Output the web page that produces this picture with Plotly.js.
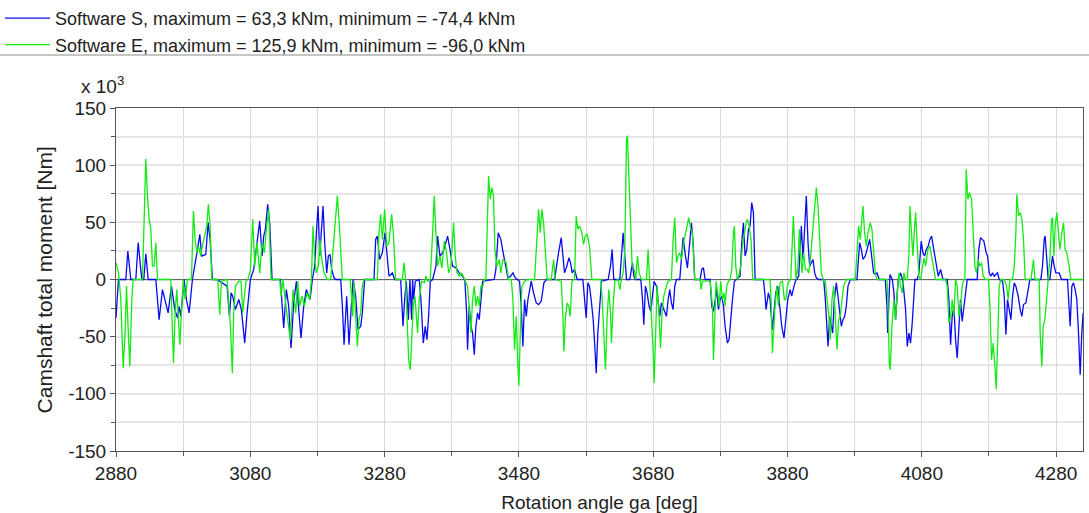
<!DOCTYPE html>
<html>
<head>
<meta charset="utf-8">
<script src="https://cdn.plot.ly/plotly-3.0.1.min.js"></script>
<style>html,body{margin:0;padding:0;background:#fff;}#chart{width:1089px;height:513px;}</style>
</head>
<body>
<div id="chart"></div>
<script>
// [rotation angle in deg, camshaft total moment in 10^3 Nm]
const softwareS = [
[2880,-33.6],[2883.7,0],[2894.6,0],[2897.6,24.9],[2902.1,0],[2909.5,0],[2913,32.2],[2918.4,0],[2921.4,0],[2924.4,22.5],[2927.9,0],[2939.3,0],[2944.2,-35.1],[2949.2,-8.8],[2957.6,-29.2],[2962.6,-5.8],[2967.6,-26.3],[2971.5,-33.6],[2974,-23.4],[2976.5,-32.2],[2981.4,0],[2984.9,-17.5],[2988.9,-29.2],[2993.8,0],[3001.3,26.3],[3004.8,39.5],[3007.7,20.5],[3013.7,21.9],[3017.2,49.7],[3020.1,35.1],[3023.6,0],
[3030.5,0],[3045.4,-5.8],[3048.9,-32.2],[3051.4,-11.7],[3053.8,-14.6],[3057.8,-26.3],[3062.8,-17.5],[3066.7,-26.3],[3071.7,-55.6],[3075.2,-29.2],[3080.1,0],[3085.1,8.8],[3090,32.2],[3094,51.2],[3097.5,20.5],[3100,38],[3102.4,43.9],[3105.9,65.8],[3108.9,49.7],[3112.4,0],[3124.8,0],[3129.7,-42.4],[3133.7,-8.8],[3137.2,-23.4],[3140.6,-59.9],[3144.6,-20.5],[3148.6,-1.5],[3152,-23.4],[3155.5,-51.2],[3159.5,-23.4],[3163.4,-8.8],[3166.9,-14.6],
[3169,-17.5],[3172.4,0],[3175.9,11.7],[3178.4,40.9],[3180.9,64.3],[3183.4,20.5],[3185.8,40.9],[3188.3,64.3],[3190.8,32.2],[3193.8,5.8],[3196.2,20.5],[3198.7,21.9],[3201.2,8.8],[3204.7,1.5],[3207.2,0],[3214.6,0],[3217.1,-23.4],[3219.6,-57],[3223.5,-14.6],[3227,-57],[3229.5,-32.2],[3233,0],[3236.9,-14.6],[3240.4,-43.9],[3244.4,-40.9],[3246.8,-29.2],[3250.3,0],[3264.2,0],[3266.7,35.1],[3269.2,38],[3272.6,17.5],[3276.6,23.4],[3280.6,40.9],[3284,17.5],[3286.5,2.9],[3291.5,5.8],[3295,0],[3303.9,0],[3307.4,-40.9],[3309.8,-17.5],[3312.3,-1.5],
[3315.3,-35.1],[3317.7,0],[3320.2,-35.1],[3321.7,0],[3323.2,-17.5],[3325.7,-1.5],[3331.6,0],[3334.1,-17.5],[3337.6,-55.6],[3340.5,-40.9],[3343,-52.6],[3345.5,-32.2],[3348,-1.5],[3351.5,0],[3356.4,11.7],[3358.9,38],[3362.4,20.5],[3366.3,23.4],[3369.8,29.2],[3373.8,38],[3377.3,26.3],[3381.2,11.7],[3386.2,10.2],[3391.1,5.8],[3396.1,2.9],[3399.6,-1.5],[3402.1,-29.2],[3403.5,-61.4],[3406,-23.4],[3408.5,-40.9],[3411,-46.8],[3413.5,-65.8],[3415.9,-40.9],[3418.4,-29.2],[3420.9,-35.1],[3423.4,-17.5],[3425.9,-1.5],[3443.2,0],[3445.7,8.8],[3449.2,40.9],[3453.1,35.1],[3455.6,26.3],[3459.6,14.6],
[3463.6,1.5],[3467.6,2.9],[3471.1,5.8],[3474.5,1.5],[3478.5,0],[3481,-1.5],[3483.5,-23.4],[3485.9,-58.5],[3488.4,-17.5],[3490.9,-32.2],[3493.4,-17.5],[3495.9,-10.2],[3498.3,-1.5],[3501.8,-11.7],[3505.8,-20.5],[3509.3,-21.9],[3513.2,-19],[3517.2,-2.9],[3520.7,0],[3533.1,0],[3535.5,11.7],[3539,23.4],[3543,36.6],[3545.5,17.5],[3547.9,5.8],[3551.4,11.7],[3554.4,19],[3556.9,14.6],[3559.3,5.8],[3562.8,8.8],[3566.8,0],[3575.2,0],[3577.7,-14.6],[3580.2,-33.6],[3582.7,-2.9],[3585.1,-5.8],[3587.6,-17.5],[3590.6,-35.1],[3593.6,-64.3],[3595.1,-81.9],[3597.5,-46.8],[3600,-26.3],
[3603,-1.5],[3612.9,0],[3616.4,11.7],[3618.8,26.3],[3621.3,0],[3630.2,0],[3632.7,20.5],[3635.2,40.9],[3637.7,20.5],[3640.2,0],[3645.1,0],[3647.6,8.8],[3649.1,14.6],[3651.1,2.9],[3653.6,0],[3661.5,0],[3664,-17.5],[3666,-39.5],[3668.4,-5.8],[3670.9,-11.7],[3673.9,-23.4],[3676.4,-27.8],[3678.8,-11.7],[3681.3,-1.5],[3684.8,-5.8],[3687.3,-17.5],[3689.8,-32.2],[3692.2,-20.5],[3694.7,-24.9],[3697.2,-29.2],[3699.7,-32.2],[3702.2,-17.5],[3704.6,-8.8],[3707.1,-20.5],[3709.6,-26.3],[3712.1,-5.8],[3714.6,0],[3719.5,0],[3722,17.5],[3724.5,36.6],[3728,20.5],[3730.9,10.2],[3734.4,32.2],[3736.9,49.7],[3739.4,32.2],[3741.8,0],
[3749.8,0],[3752.3,8.8],[3754.8,10.2],[3757.3,0],[3764.7,0],[3767.2,-23.4],[3769.7,-27.8],[3772.2,-17.5],[3774.6,-8.8],[3777.1,-26.3],[3779.6,-17.5],[3782.1,-14.6],[3784.6,-23.4],[3787,-40.9],[3790.5,-55.6],[3793,-52.6],[3795.5,-32.2],[3798,-17.5],[3800.9,-1.5],[3804.4,0],[3809.4,2.9],[3811.8,32.2],[3814.3,49.7],[3816.8,20.5],[3819.3,26.3],[3821.8,43.9],[3824.2,46.8],[3826.7,67.3],[3829.2,58.5],[3831.7,0],[3844.1,0],[3846.6,-14.6],[3848,-26.3],[3851.5,-11.7],[3854,-17.5],[3857.5,-43.9],[3860,-23.4],[3862.4,-11.7],[3865.4,-5.8],[3868.9,-26.3],[3871.4,-40.9],[3874.8,-51.2],[3877.3,-32.2],[3880.3,-17.5],[3883.8,-8.8],[3886.2,-14.6],[3889.7,-5.8],
[3891.7,-1.5],[3896.6,2.9],[3899.1,40.9],[3900.6,46.8],[3903.1,17.5],[3905.6,40.9],[3908,73.1],[3910.5,32.2],[3913,11.7],[3915.5,14.6],[3918,17.5],[3920.4,5.8],[3922.9,1.5],[3926.4,0],[3933.8,0],[3936.3,-17.5],[3938.8,-46.8],[3940.3,-58.5],[3942.7,-32.2],[3945.2,-40.9],[3947.2,-46.8],[3949.7,-17.5],[3952.7,-2.9],[3955.1,-14.6],[3957.6,-29.2],[3960.1,-40.9],[3962.6,-35.1],[3965.1,-32.2],[3967.5,-23.4],[3970,-5.8],[3973.5,0],[3983.4,0],[3984.9,11.7],[3987.4,32.2],[3989.9,26.3],[3992.3,17.5],[3995.8,20.5],[3999.8,29.2],[4002.3,35.1],[4004.7,23.4],[4008.2,5.8],[4010.7,4.4],[4013.2,5.8],[4016.7,0],[4025.6,0],[4028.1,-23.4],[4029.1,-46.8],
[4032.5,4.4],[4036,0],[4038.4,-11.7],[4040.9,-35.1],[4043.4,-11.7],[4044.9,0],[4048.4,5.8],[4051.8,-1.5],[4055.8,-26.3],[4058.3,-58.5],[4060.8,-46.8],[4063.2,-55.6],[4065.7,-38],[4068.2,-11.7],[4069.7,0],[4073.2,0],[4075.6,5.8],[4079.1,33.6],[4081.6,23.4],[4084.1,20.5],[4086.6,26.3],[4089.5,29.2],[4092,35.1],[4094.5,38],[4097,29.2],[4099.4,17.5],[4101.9,8.8],[4104.4,2.9],[4107.9,8.8],[4111.4,0],[4117.8,0],[4120.3,-17.5],[4122.8,-57],[4125.2,-32.2],[4127.7,-23.4],[4130.2,-52.6],[4132.7,-68.7],[4135.2,-35.1],[4137.6,-17.5],[4140.1,-36.6],[4142.6,-23.4],[4145.1,-8.8],[4147.6,0],[4162.4,0],[4164.9,26.3],[4167.4,36.6],[4172.4,33.6],[4175.8,23.4],
[4177.9,20.5],[4180.4,5.8],[4182.8,2.9],[4185.3,5.8],[4187.8,2.9],[4190.3,4.4],[4192.8,5.8],[4195.2,0],[4200.2,-1.5],[4202.7,-14.6],[4205.2,-48.2],[4207.6,-17.5],[4210.1,-26.3],[4212.6,-35.1],[4215.1,-14.6],[4217.6,-2.9],[4220,-5.8],[4223.5,-14.6],[4226.5,-26.3],[4229,-32.2],[4231.4,-21.9],[4234.9,-20.5],[4238.4,-8.8],[4240.9,0],[4257.2,0],[4259.7,11.7],[4262.2,35.1],[4263.7,38],[4265.7,20.5],[4268.2,0],[4270.6,0],[4273.1,17.5],[4274.6,20.5],[4277.1,11.7],[4279.6,5.8],[4284.5,5.8],[4288,0],[4296.9,0],[4299.4,-26.3],[4300.9,-40.9],[4303.4,-5.8],[4305.8,-2.9],[4308.3,-8.8],[4310.8,-17.5],[4313.3,-46.8],[4315.8,-83.3],[4318.2,-46.8],[4320.2,-29.2]
];

const softwareE = [
[2880,14.6],[2883.7,5.8],[2887.2,-17.5],[2890.7,-77.5],[2893.6,-46.8],[2895.6,-5.8],[2897.1,-29.2],[2900.6,-76],[2903.6,-17.5],[2905.6,0],[2919.4,0],[2921.9,46.8],[2924.4,105.3],[2926.9,73.1],[2929.4,52.6],[2931.8,43.9],[2934.3,11.7],[2936.8,11.7],[2939.3,32.2],[2941.8,0],[2961.6,0],[2964.1,-46.8],[2965.6,-73.1],[2968,-29.2],[2970.5,-8.8],[2972.5,-29.2],[2975,-57],[2977.5,-29.2],[2980,0],[2982.9,-17.5],[2986.4,0],[2992.4,0],[2995.3,59.9],[2997.8,35.1],[3000.3,23.4],[3002.8,29.2],[3006.2,20.5],[3008.7,29.2],[3012.2,38],[3015.2,46.8],[3017.6,65.8],[3020.1,46.8],[3022.6,0],
[3031.5,0],[3034.5,-30.7],[3037,-1.5],[3045.4,0],[3047.9,-23.4],[3050.4,-40.9],[3053.3,-81.9],[3055.3,-29.2],[3057.8,-5.8],[3062.8,-1.5],[3066.2,-1.5],[3068.7,-29.2],[3071.7,-11.7],[3073.7,-1.5],[3076.2,0],[3080.1,7.3],[3083.6,52.6],[3086.6,11.7],[3090,32.2],[3094,5.8],[3097.5,32.2],[3101,23.4],[3103.9,43.9],[3107.4,61.4],[3110.9,0],[3123.8,0],[3125.8,-14.6],[3128.7,0],[3133.7,-26.3],[3139.6,-52.6],[3143.6,-8.8],[3147.6,-29.2],[3150.6,-1.5],[3153.5,-23.4],[3157,-14.6],[3160.5,-23.4],[3164.4,-11.7],[3168.4,-17.5],[3171,0],
[3173.4,46.8],[3175.9,17.5],[3178.4,5.8],[3181.4,11.7],[3183.8,35.1],[3185.8,20.5],[3189.8,5.8],[3194.8,0],[3199.7,0],[3203.7,29.2],[3207.2,52.6],[3209.6,73.1],[3212.1,52.6],[3214.6,20.5],[3217.1,0],[3228.5,0],[3230.5,-11.7],[3232.5,-32.2],[3234.4,-1.5],[3236.9,-32.2],[3239.4,-58.5],[3241.9,-35.1],[3244.4,-29.2],[3246.8,-5.8],[3249.3,0],[3269.2,0],[3271.6,40.9],[3274.1,57],[3276.6,35.1],[3280.1,61.4],[3283,29.2],[3286.5,32.2],[3290.5,57],[3293,40.9],[3296.4,0],[3306.4,0],[3308.8,14.6],[3311.3,0],[3313.8,-32.2],[3315.8,-70.2],
[3318.2,-78.9],[3320.2,-46.8],[3322.7,-23.4],[3325.2,-14.6],[3327.7,-32.2],[3329.1,-46.8],[3331.6,-17.5],[3335.1,-1.5],[3339.1,-2.9],[3341.5,2.9],[3344,-1.5],[3348,0],[3351.5,40.9],[3353.9,73.1],[3356.4,40.9],[3358.9,11.7],[3362.4,20.5],[3365.3,10.2],[3368.8,33.6],[3372.3,23.4],[3375.3,5.8],[3378.7,11.7],[3382.7,49.7],[3385.2,20.5],[3387.7,5.8],[3391.1,2.9],[3394.6,5.8],[3398.6,0],[3403.5,-5.8],[3406.5,-29.2],[3408.5,-46.8],[3411,-17.5],[3413.5,-5.8],[3415.9,-23.4],[3418.4,-14.6],[3420.9,-23.4],[3423.4,-5.8],[3426.4,-5.8],[3428.3,0],[3430.8,0],[3433.3,70.2],[3434.8,90.6],[3437.3,70.2],[3439.7,80.4],[3442.2,73.1],[3444.2,26.3],[3447.2,11.7],[3450.7,17.5],[3453.1,5.8],[3456.1,17.5],
[3461.1,14.6],[3464.6,0],[3468.6,0],[3471.1,-17.5],[3473.5,-61.4],[3476,-32.2],[3478.5,-76],[3480,-93],[3482,-46.8],[3484.5,-5.8],[3488.4,-1.5],[3493.4,0],[3503.3,0],[3506.8,40.9],[3509.3,61.4],[3511.7,40.9],[3514.2,61.4],[3516.7,49.7],[3519.7,17.5],[3522.1,0],[3528.1,0],[3531.6,17.5],[3534.1,0],[3543,-1.5],[3545.5,-32.2],[3546.9,-62.9],[3549.4,-32.2],[3551.9,-20.5],[3554.4,-23.4],[3556.4,-32.2],[3558.9,-1.5],[3562.8,0],[3565.3,55.6],[3567.8,43.9],[3570.3,46.8],[3573.7,40.9],[3576.2,30.7],[3578.7,38],[3581.7,39.5],[3585.1,29.2],[3588.6,0],[3602,0],
[3604,-17.5],[3606.4,-52.6],[3608.9,-78.9],[3611.4,-32.2],[3613.9,-8.8],[3616.4,-29.2],[3617.8,-55.6],[3620.3,-23.4],[3622.8,-1.5],[3627.8,0],[3630.2,-8.8],[3632.7,0],[3635.2,5.8],[3637.7,26.3],[3640.2,122.8],[3641.6,125.9],[3643.6,87.7],[3646.1,46.8],[3648.6,11.7],[3651.6,8.8],[3654,0],[3656.5,20.5],[3659,5.8],[3662.5,0],[3669.9,0],[3672.4,26.3],[3674.9,0],[3677.4,-29.2],[3679.8,-61.4],[3681.3,-90.6],[3683.3,-46.8],[3685.8,-5.8],[3688.3,-26.3],[3690.8,-59.9],[3693.2,-29.2],[3695.7,-14.6],[3699.7,-5.8],[3702.2,-1.5],[3707.1,0],[3709.6,35.1],[3712.1,54.1],[3714.6,14.6],[3717,20.5],[3719.5,23.4],[3722,17.5],[3726,35.1],[3729.4,43.9],[3732.9,54.1],[3735.9,43.9],[3738.4,40.9],[3741.8,0],
[3749.8,0],[3751.3,-8.8],[3753.3,-1.5],[3764.7,-1.5],[3768.2,-23.4],[3769.7,-70.2],[3772.2,-23.4],[3773.6,-1.5],[3776.1,-11.7],[3778.1,-23.4],[3780.6,-1.5],[3783.1,-17.5],[3785.6,-11.7],[3787,-23.4],[3789.5,-5.8],[3792,-1.5],[3794.5,0],[3797,8.8],[3799.4,40.9],[3800.9,46.8],[3802.9,11.7],[3805.4,0],[3808.4,5.8],[3810.4,11.7],[3812.8,29.2],[3815.8,40.9],[3818.3,49.7],[3820.3,52.6],[3822.8,46.8],[3825.7,35.1],[3828.2,0],[3854,0],[3855.5,-17.5],[3857.5,-64.3],[3859.5,-40.9],[3861.4,-23.4],[3863.9,-5.8],[3866.4,-23.4],[3868.9,-2.9],[3872.4,-1.5],[3875.3,-17.5],[3877.3,-17.5],[3879.8,-5.8],[3882.3,-1.5],[3884.8,0],[3887.2,35.1],[3888.7,55.6],[3891.2,20.5],[3892.7,0],
[3895.6,11.7],[3897.6,43.9],[3899.1,26.3],[3901.6,5.8],[3904.1,23.4],[3906.5,8.8],[3909,8.8],[3911.5,5.8],[3914,17.5],[3916.5,35.1],[3918.9,52.6],[3921.4,76],[3922.9,80.4],[3925.4,64.3],[3927.9,35.1],[3930.3,5.8],[3933.8,-1.5],[3936.3,-1.5],[3938.8,-17.5],[3942.2,-35.1],[3943.7,-52.6],[3946.2,-17.5],[3948.7,-5.8],[3951.2,-40.9],[3953.7,-61.4],[3956.1,-35.1],[3958.6,-32.2],[3961.1,-17.5],[3963.6,-5.8],[3966.1,-1.5],[3968.5,0],[3980.9,0],[3983.4,26.3],[3985.9,46.8],[3988.4,35.1],[3990.9,49.7],[3992.3,64.3],[3994.8,40.9],[3997.3,29.2],[3999.8,40.9],[4003.3,49.7],[4005.7,43.9],[4008.2,26.3],[4010.7,5.8],[4013.2,0],[4028.1,0],[4029.5,-17.5],[4031.5,-73.1],[4033,-78.9],[4035.5,-40.9],
[4038.4,-17.5],[4040.9,-35.1],[4043.4,-11.7],[4045.9,5.8],[4048.4,-5.8],[4050.8,-11.7],[4053.3,5.8],[4055.8,0],[4058.3,0],[4060.8,23.4],[4062.2,64.3],[4064.2,40.9],[4066.7,20.5],[4068.7,40.9],[4070.7,58.5],[4073.2,29.2],[4075.6,2.9],[4078.1,0],[4080.6,8.8],[4083.1,19],[4085.6,11.7],[4089,26.3],[4092,29.2],[4094.5,20.5],[4097,11.7],[4100.4,0],[4115.3,0],[4117.8,-5.8],[4120.3,-38],[4122.8,-32.2],[4125.2,-17.5],[4127.7,-32.2],[4130.2,0],[4132.7,-5.8],[4135.2,-32.2],[4137.6,-23.4],[4140.1,-5.8],[4142.6,0],[4144.1,0],[4146.1,96.5],[4148.6,70.2],[4151,76],[4154,70.2],[4156.5,35.1],[4159,11.7],[4161.4,5.8],[4163.9,17.5],[4166.4,11.7],[4168.9,14.6],[4171.4,2.9],[4174.8,0],[4179.4,0],
[4181.4,-23.4],[4183.8,-70.2],[4186.3,-55.6],[4188.8,-76],[4190.8,-96],[4193.3,-46.8],[4195.2,-5.8],[4197.7,0],[4202.7,0],[4206.2,-5.8],[4208.6,-17.5],[4211.1,0],[4215.1,0],[4217.6,11.7],[4220,40.9],[4221.5,74.6],[4224,55.6],[4226.5,58.5],[4229,52.6],[4231.4,35.1],[4233.9,0],[4242.4,0],[4244.8,14.6],[4246.3,17.5],[4248.3,0],[4254.8,0],[4256.2,-46.8],[4258.7,-76],[4260.7,-40.9],[4263.2,-35.1],[4265.7,-17.5],[4268.2,0],[4270.6,17.5],[4273.1,52.6],[4274.6,54.1],[4276.6,20.5],[4278.6,46.8],[4281,58.5],[4283.5,40.9],[4285.5,26.3],[4288.5,40.9],[4291,49.7],[4293.4,26.3],[4295.9,23.4],[4299.4,11.7],[4301.9,0],[4320.2,0]
];

const seriesNames = [
  'Software S, maximum = 63,3 kNm, minimum = -74,4 kNm',
  'Software E, maximum = 125,9 kNm, minimum = -96,0 kNm'
];
const xTickVals = [2880, 3080, 3280, 3480, 3680, 3880, 4080, 4280];
const xMinorVals = [2980, 3180, 3380, 3580, 3780, 3980, 4180];
const yTickVals = [-150, -100, -50, 0, 50, 100, 150];
const yTickText = ['-150', '-100', '-50', '0', '50', '100', '150'];
const xRange = [2880, 4320];
const yRange = [-150, 150];
const xTitle = 'Rotation angle ga [deg]';
const yTitle = 'Camshaft total moment [Nm]';
const scaleNote = 'x 10<sup>3</sup>';

const FONT = 'Liberation Sans, Arial, Helvetica, sans-serif';

const traces = [
  {
    x: softwareS.map(p => p[0]), y: softwareS.map(p => p[1]),
    type: 'scatter', mode: 'lines', name: seriesNames[0],
    line: {color: '#0a0af0', width: 1.3}
  },
  {
    x: softwareE.map(p => p[0]), y: softwareE.map(p => p[1]),
    type: 'scatter', mode: 'lines', name: seriesNames[1],
    line: {color: '#14ea14', width: 1.3}
  }
];

const layout = {
  width: 1089, height: 513,
  margin: {l: 116, r: 6, t: 108, b: 62, autoexpand: false},
  paper_bgcolor: '#ffffff', plot_bgcolor: '#ffffff',
  font: {family: FONT, size: 19, color: '#222'},
  showlegend: true,
  legend: {
    x: 0, y: 1.009, xref: 'container', yref: 'container',
    xanchor: 'left', yanchor: 'top',
    font: {family: FONT, size: 18, color: '#222'},
    bgcolor: 'rgba(0,0,0,0)', itemwidth: 45, tracegroupgap: 0
  },
  xaxis: {
    range: xRange, tickmode: 'array', tickvals: xTickVals,
    ticks: 'outside', ticklen: 5, tickcolor: '#555',
    showgrid: true, gridcolor: '#dadada', gridwidth: 1,
    minor: {tickmode: 'array', tickvals: xMinorVals, ticks: 'outside', ticklen: 4, tickcolor: '#555', showgrid: true, gridcolor: '#dadada', gridwidth: 1},
    showline: true, linecolor: '#555', linewidth: 1, mirror: true,
    zeroline: false, automargin: false,
    tickfont: {family: FONT, size: 19, color: '#222'},
    title: {text: xTitle, font: {family: FONT, size: 19, color: '#222'}}
  },
  yaxis: {
    range: yRange, tickmode: 'array', tickvals: yTickVals, ticktext: yTickText,
    ticks: 'outside', ticklen: 5, tickcolor: '#555',
    showgrid: true, gridcolor: '#e6e6e6', gridwidth: 2,
    minor: {dtick: 25, tick0: 0, ticks: 'outside', ticklen: 4, tickcolor: '#555', showgrid: true, gridcolor: '#e6e6e6', gridwidth: 2},
    showline: true, linecolor: '#555', linewidth: 1, mirror: true,
    zeroline: true, zerolinecolor: '#666', zerolinewidth: 1, automargin: false,
    tickfont: {family: FONT, size: 19, color: '#222'}
  },
  annotations: [
    {text: scaleNote, xref: 'paper', yref: 'paper', x: -0.038, y: 1.068,
     xanchor: 'left', yanchor: 'middle', showarrow: false,
     font: {family: FONT, size: 19, color: '#222'}},
    {text: yTitle, xref: 'paper', yref: 'paper', x: -0.0735, y: 0.5,
     xanchor: 'center', yanchor: 'middle', textangle: -90, showarrow: false,
     font: {family: FONT, size: 21, color: '#222'}}
  ],
  shapes: [
    {type: 'line', xref: 'paper', yref: 'paper', x0: -0.125, x1: 1.01, y0: 1.1545, y1: 1.1545,
     line: {color: '#8c8c8c', width: 1}}
  ]
};

Plotly.newPlot('chart', traces, layout, {staticPlot: true, displayModeBar: false});
</script>
</body>
</html>
